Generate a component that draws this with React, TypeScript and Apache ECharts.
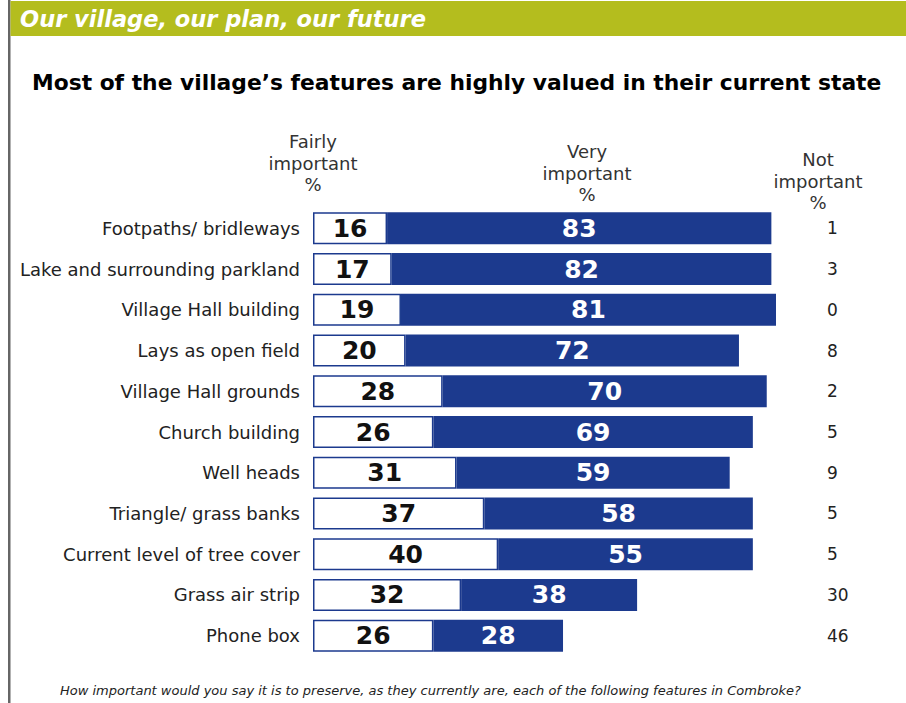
import React, { useEffect, useRef } from "react";
import * as echarts from "echarts";

const categories = [
  "Footpaths/ bridleways",
  "Lake and surrounding parkland",
  "Village Hall building",
  "Lays as open field",
  "Village Hall grounds",
  "Church building",
  "Well heads",
  "Triangle/ grass banks",
  "Current level of tree cover",
  "Grass air strip",
  "Phone box",
];
const fairlyImportant = [16, 17, 19, 20, 28, 26, 31, 37, 40, 32, 26];
const veryImportant = [83, 82, 81, 72, 70, 69, 59, 58, 55, 38, 28];
const notImportant = [1, 3, 0, 8, 2, 5, 9, 5, 5, 30, 46];

const banner = "Our village, our plan, our future";
const title = "Most of the village\u2019s features are highly valued in their current state";
const footnote =
  "How important would you say it is to preserve, as they currently are, each of the following features in Combroke?";

const BLUE = "#1c3a8e";
const FONT = "DejaVu Sans";

export default function App() {
  const ref = useRef<HTMLDivElement>(null);
  useEffect(() => {
    if (!ref.current) return;
    const chart = echarts.init(ref.current, undefined, { renderer: "svg" });
    chart.setOption({
      animation: false,
      backgroundColor: "#ffffff",
      grid: { left: 313, right: 130, top: 208, bottom: 47, containLabel: false },
      xAxis: { type: "value", min: 0, max: 100, show: false },
      yAxis: [
        {
          type: "category",
          data: categories,
          inverse: true,
          axisLine: { show: false },
          axisTick: { show: false },
          axisLabel: { margin: 13, fontSize: 18, color: "#222", fontFamily: FONT },
        },
        {
          type: "category",
          data: notImportant.map(String),
          inverse: true,
          position: "right",
          axisLine: { show: false },
          axisTick: { show: false },
          axisLabel: { margin: 51, align: "left", fontSize: 17, color: "#222", fontFamily: FONT },
        },
      ],
      series: [
        {
          name: "Fairly important",
          type: "bar",
          stack: "total",
          data: fairlyImportant,
          barWidth: 32,
          itemStyle: { color: "#ffffff", borderColor: BLUE, borderWidth: 1.5 },
          label: {
            show: true,
            position: "inside",
            color: "#111",
            fontWeight: "bold",
            fontSize: 25,
            fontFamily: FONT,
          },
        },
        {
          name: "Very important",
          type: "bar",
          stack: "total",
          data: veryImportant,
          barWidth: 32,
          itemStyle: { color: BLUE },
          label: {
            show: true,
            position: "inside",
            color: "#ffffff",
            fontWeight: "bold",
            fontSize: 25,
            fontFamily: FONT,
          },
        },
      ],
      graphic: [
        { type: "rect", left: 8, top: 0, shape: { width: 2.5, height: 703 }, style: { fill: "#666" } },
        { type: "rect", left: 10.5, top: 1, shape: { width: 896, height: 35 }, style: { fill: "#b4bd1e" } },
        {
          type: "text",
          x: 20,
          y: 19,
          style: {
            text: banner,
            fill: "#ffffff",
            font: `italic bold 22.5px '${FONT}'`,
            verticalAlign: "middle",
          },
        },
        {
          type: "text",
          x: 32,
          y: 82,
          style: {
            text: title,
            fill: "#000",
            font: `bold 21.8px '${FONT}'`,
            verticalAlign: "middle",
          },
        },
        {
          type: "text",
          x: 313,
          y: 131,
          style: {
            text: "Fairly\nimportant\n%",
            fill: "#333",
            font: `18px '${FONT}'`,
            align: "center",
            verticalAlign: "top",
            lineHeight: 21.5,
          },
        },
        {
          type: "text",
          x: 587,
          y: 141,
          style: {
            text: "Very\nimportant\n%",
            fill: "#333",
            font: `18px '${FONT}'`,
            align: "center",
            verticalAlign: "top",
            lineHeight: 21.5,
          },
        },
        {
          type: "text",
          x: 818,
          y: 149,
          style: {
            text: "Not\nimportant\n%",
            fill: "#333",
            font: `18px '${FONT}'`,
            align: "center",
            verticalAlign: "top",
            lineHeight: 21.5,
          },
        },
        {
          type: "text",
          x: 60,
          y: 690,
          style: {
            text: footnote,
            fill: "#222",
            font: `italic 13px '${FONT}'`,
            verticalAlign: "middle",
          },
        },
      ],
    });
    return () => chart.dispose();
  }, []);
  return (
    <div
      ref={ref}
      style={{ position: "fixed", left: 0, top: 0, width: 906, height: 703 }}
    />
  );
}
